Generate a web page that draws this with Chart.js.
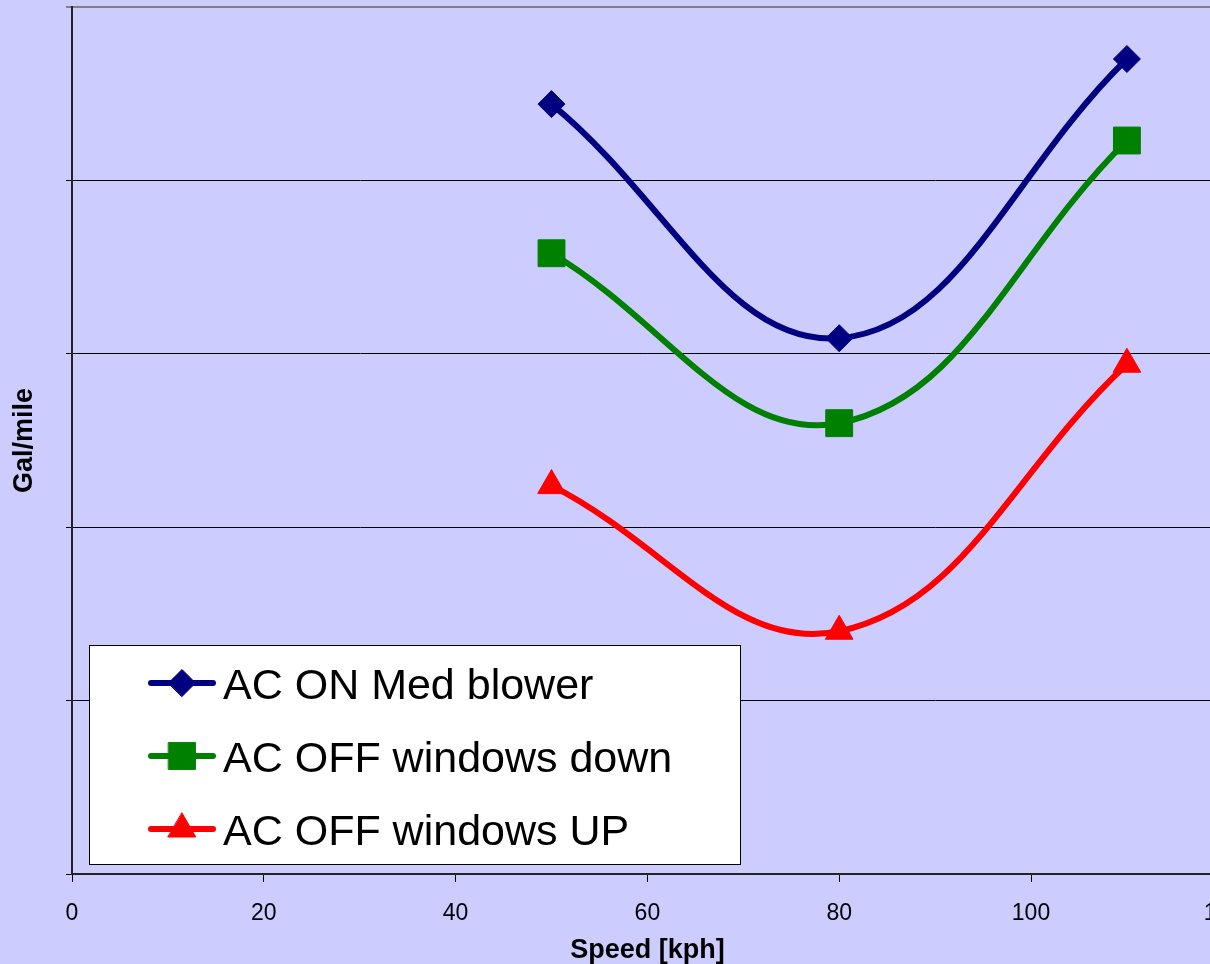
<!DOCTYPE html>
<html>
<head>
<meta charset="utf-8">
<script src="https://cdn.jsdelivr.net/npm/chart.js@4/dist/chart.umd.min.js"></script>
<style>
  html, body { margin: 0; padding: 0; background: #ccccff; overflow: hidden; width: 1210px; height: 964px; }
  #wrap { position: absolute; left: 0; top: 0; width: 1260px; height: 964px; }
</style>
</head>
<body>
<div id="wrap"><canvas id="c" width="1260" height="964"></canvas></div>
<script>
// Fuel use per mile at three cruising speeds
const speeds = [50, 80, 110];
const seriesNames = ['AC ON Med blower', 'AC OFF windows down', 'AC OFF windows UP'];
const acOnMedBlower = [0.0444, 0.0309, 0.0470];
const acOffWindowsDown = [0.0358, 0.0260, 0.0423];
const acOffWindowsUp = [0.0224, 0.0140, 0.0294];
const xTickValues = [0, 20, 40, 60, 80, 100, 120];

const FONT = "'Liberation Sans', Arial, Helvetica, sans-serif";

const styles = [
  { color: '#000080', pointStyle: 'rectRot', radius: 13.5 },
  { color: '#008000', pointStyle: 'rect', radius: 19 },
  { color: '#ff0000', pointStyle: 'triangle', radius: 16 }
];
const seriesValues = [acOnMedBlower, acOffWindowsDown, acOffWindowsUp];

const datasets = seriesValues.map((vals, i) => ({
  label: seriesNames[i],
  data: speeds.map((s, j) => ({ x: s, y: vals[j] })),
  borderColor: styles[i].color,
  backgroundColor: styles[i].color,
  borderWidth: 6,
  tension: 0.4,
  pointStyle: styles[i].pointStyle,
  pointRadius: styles[i].radius,
  pointBorderWidth: 1,
  pointBorderColor: styles[i].color,
  pointBackgroundColor: styles[i].color,
  clip: false
}));

// Boxed legend drawn inside the plot, lower left
const boxLegend = {
  id: 'boxLegend',
  afterDraw(chart) {
    const ctx = chart.ctx;
    const bx = 89.5, by = 645.5, bw = 651, bh = 219;
    ctx.save();
    ctx.fillStyle = '#ffffff';
    ctx.fillRect(bx, by, bw, bh);
    ctx.strokeStyle = '#000000';
    ctx.lineWidth = 1;
    ctx.strokeRect(bx, by, bw, bh);
    const rowY = [683, 756, 829];
    chart.data.datasets.forEach((ds, i) => {
      const y = rowY[i];
      ctx.strokeStyle = ds.borderColor;
      ctx.lineWidth = 6;
      ctx.lineCap = 'round';
      ctx.beginPath();
      ctx.moveTo(151, y);
      ctx.lineTo(213, y);
      ctx.stroke();
      ctx.fillStyle = ds.pointBackgroundColor;
      ctx.strokeStyle = ds.pointBorderColor;
      ctx.lineWidth = 1;
      Chart.helpers.drawPoint(ctx, {
        pointStyle: ds.pointStyle, radius: ds.pointRadius, rotation: 0, borderWidth: 1
      }, 182, y);
      ctx.fillStyle = '#000000';
      ctx.font = '43px ' + FONT;
      ctx.textBaseline = 'alphabetic';
      ctx.textAlign = 'left';
      ctx.fillText(ds.label, 223, y + 16);
    });
    ctx.restore();
  }
};

new Chart(document.getElementById('c'), {
  type: 'line',
  data: { datasets },
  plugins: [boxLegend],
  options: {
    responsive: false,
    animation: false,
    devicePixelRatio: 1,
    layout: { autoPadding: false, padding: { top: 7, right: 33, left: 0, bottom: 0 } },
    plugins: { legend: { display: false }, tooltip: { enabled: false } },
    scales: {
      x: {
        type: 'linear',
        min: 0,
        max: 120,
        afterBuildTicks(axis) { axis.ticks = xTickValues.map(v => ({ value: v })); },
        ticks: { color: '#000', font: { family: FONT, size: 23 }, padding: 18, maxRotation: 0, autoSkip: false },
        grid: { drawOnChartArea: false, drawTicks: true, tickLength: 8, color: '#000', lineWidth: 1 },
        border: { display: true, color: '#222', width: 2 },
        title: {
          display: true, text: 'Speed [kph]', color: '#000',
          font: { family: FONT, size: 27, weight: 'bold', lineHeight: 1 }, padding: { top: 0, bottom: 0 }
        },
        afterFit(axis) { axis.height = 90; }
      },
      y: {
        min: 0,
        max: 0.05,
        ticks: { stepSize: 0.01, display: false },
        grid: {
          drawTicks: true,
          tickLength: 6,
          color: (c) => (c.tick && c.tick.value > 0.0499 ? '#808080' : '#000'),
          lineWidth: (c) => (c.tick && c.tick.value > 0.0499 ? 2 : 1)
        },
        border: { display: true, color: '#222', width: 2 },
        title: {
          display: true, text: 'Gal/mile', color: '#000',
          font: { family: FONT, size: 27, weight: 'bold' }, padding: { top: 8, bottom: 0 }
        },
        afterFit(axis) { axis.width = 72; }
      }
    }
  }
});
</script>
</body>
</html>
